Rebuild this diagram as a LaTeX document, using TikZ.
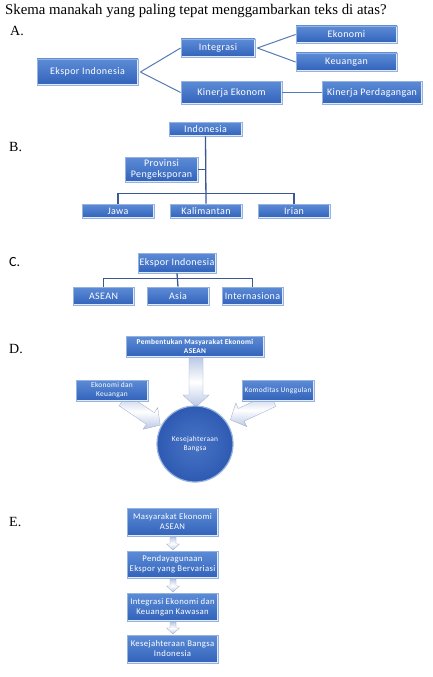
\documentclass[tikz,border=0pt]{standalone}
\usepackage{fontspec}
\setmainfont{Liberation Serif}
\setsansfont{Carlito}
\newfontfamily\bxfont[LetterSpace=4]{Carlito}
\usetikzlibrary{calc}
\definecolor{bxtop}{RGB}{92,140,214}
\definecolor{bxbot}{RGB}{50,98,186}
\definecolor{bxedge}{RGB}{150,178,222}
\definecolor{bxlite}{RGB}{225,234,248}
\definecolor{lnA}{RGB}{84,124,180}
\definecolor{lnB}{RGB}{58,88,148}
\definecolor{arw}{RGB}{186,200,230}
\newcommand\fatarr[7]{%
\begin{scope}[shift={(#1,#2)},rotate=#3]
\shade[top color=arw, bottom color=arw, middle color=white, draw=arw!85!black, line width=0.3pt]
 (0,-#5) -- ({#4-#7},-#5) -- ({#4-#7},-#6) -- (#4,0) -- ({#4-#7},#6) -- ({#4-#7},#5) -- (0,#5) -- cycle;
\end{scope}}
\tikzset{
 bx/.style={rectangle, draw=bxedge, line width=0.8pt, top color=bxtop, bottom color=bxbot,
   text=white, align=center, inner sep=1pt, font=\bxfont\fontsize{10}{11}\selectfont,
   path picture={\draw[bxlite, line width=1.2pt]
     ([xshift=-0.6pt,yshift=-1pt]path picture bounding box.north east) --
     ([xshift=-0.6pt,yshift=0.6pt]path picture bounding box.south east) --
     ([xshift=1pt,yshift=0.6pt]path picture bounding box.south west);}},
 lab/.style={anchor=base west, inner sep=0pt, font=\fontsize{14}{15}\selectfont},
 cA/.style={draw=lnA, line width=1pt},
 cB/.style={draw=lnB, line width=1.3pt},
 small/.style={font=\bxfont\fontsize{7.4}{9}\selectfont},
 smallE/.style={font=\bxfont\fontsize{8.7}{10}\selectfont}
}
\begin{document}
\begin{tikzpicture}[x=1pt,y=-1pt]
\useasboundingbox[fill=white] (0,0) rectangle (433,677);
\node[anchor=base west, inner sep=0pt, font=\fontsize{14.8}{16}\selectfont] (title) at (5,15)
 {Skema manakah yang paling tepat menggambarkan teks di atas?};
% ---------- A
\node[lab] (la) at (10,36) {A.};
\node[bx, minimum width=101pt, minimum height=26pt] (ea) at (87.5,72) {Ekspor Indonesia};
\node[bx, minimum width=74pt, minimum height=18pt] (ai) at (218,48) {Integrasi};
\node[bx, minimum width=101pt, minimum height=17pt] (ae) at (346.5,34.5) {Ekonomi};
\node[bx, minimum width=101pt, minimum height=18pt] (ak) at (346.5,62) {Keuangan};
\node[bx, minimum width=101pt, minimum height=23pt] (an) at (231.5,92.5) {Kinerja Ekonom};
\node[bx, minimum width=100pt, minimum height=23pt] (ap) at (372,92.5) {Kinerja Perdagangan};
\draw[cA] ([xshift=2pt]ea.east) -- (ai.west);
\draw[cA] ([xshift=2pt]ea.east) -- (an.west);
\draw[cA] ([xshift=2pt]ai.east) -- (ae.west);
\draw[cA] ([xshift=2pt]ai.east) -- (ak.west);
\draw[cA] (an.east) -- (ap.west);
% ---------- B
\node[lab] (lb) at (9,151) {B.};
\node[bx, minimum width=73pt, minimum height=14pt] (bi) at (205.5,129) {Indonesia};
\node[bx, minimum width=73pt, minimum height=25pt, font=\bxfont\fontsize{10}{11}\selectfont] (bp) at (161.5,169.5) {Provinsi\\Pengeksporan};
\node[bx, minimum width=72pt, minimum height=14pt] (bj) at (118,211) {Jawa};
\node[bx, minimum width=72pt, minimum height=14pt] (bk) at (206,211) {Kalimantan};
\node[bx, minimum width=72pt, minimum height=14pt] (br) at (294,211) {Irian};
\draw[cB] (bi.south) -- (bk.north);
\draw[cB] (bj.north) -- ++(0,-10) -| (br.north);
\draw[cB] (bp.east) -- (bp.east -| bi.south);
% ---------- C
\node[lab, font=\sffamily\fontsize{14}{15}\selectfont] (lc) at (9,266) {C.};
\node[bx, minimum width=78pt, minimum height=20pt] (ce) at (177,263) {Ekspor Indonesia};
\node[bx, minimum width=61pt, minimum height=18pt] (ca) at (103.5,296) {ASEAN};
\node[bx, minimum width=62pt, minimum height=18pt] (cs) at (178,296) {Asia};
\node[bx, minimum width=61pt, minimum height=18pt] (cn) at (252.5,296) {Internasiona};
\draw[cB] (ce.south) -- (cs.north);
\draw[cB] (ca.north) -- ++(0,-8) -| (cn.north);
% ---------- D
\node[lab] (ld) at (9,353) {D.};
\fatarr{123}{400}{-34}{45}{7}{13}{12}
\fatarr{273}{400}{-155}{47}{7}{13}{12}
\fatarr{196}{357}{-90}{50}{7}{13}{12}
\node[bx, minimum width=138pt, minimum height=21pt, font=\bxfont\bfseries\fontsize{7.4}{9}\selectfont] (dp) at (195,346.5) {Pembentukan Masyarakat Ekonomi\\ASEAN};
\node[bx, small, minimum width=72pt, minimum height=21pt] (dl) at (112,390.5) {Ekonomi dan\\Keuangan};
\node[bx, small, minimum width=72pt, minimum height=21pt] (dr) at (278,390.5) {Komoditas Unggulan};
\node[circle, minimum size=76pt, inner sep=0pt, draw=bxedge, line width=1.2pt,
  inner color={rgb,255:red,72;green,116;blue,198}, outer color={rgb,255:red,46;green,90;blue,178},
  text=white, align=center, small] (dc) at (195,444) {Kesejahteraan\\Bangsa};
% ---------- E
\node[lab] (le) at (9,526) {E.};
\fatarr{173}{537}{-90}{13}{3}{6.5}{6}
\fatarr{173}{579}{-90}{13}{3}{6.5}{6}
\fatarr{173}{622}{-90}{12}{3}{6.5}{6}
\node[bx, smallE, minimum width=91pt, minimum height=28pt] (e1) at (172.5,522) {Masyarakat Ekonomi\\ASEAN};
\node[bx, smallE, minimum width=91pt, minimum height=27pt] (e2) at (172.5,564.5) {Pendayagunaan\\Ekspor yang Bervariasi};
\node[bx, smallE, minimum width=91pt, minimum height=28pt] (e3) at (172.5,607) {Integrasi Ekonomi dan\\Keuangan Kawasan};
\node[bx, smallE, minimum width=91pt, minimum height=28pt] (e4) at (172.5,649) {Kesejahteraan Bangsa\\Indonesia};
\end{tikzpicture}
\end{document}
